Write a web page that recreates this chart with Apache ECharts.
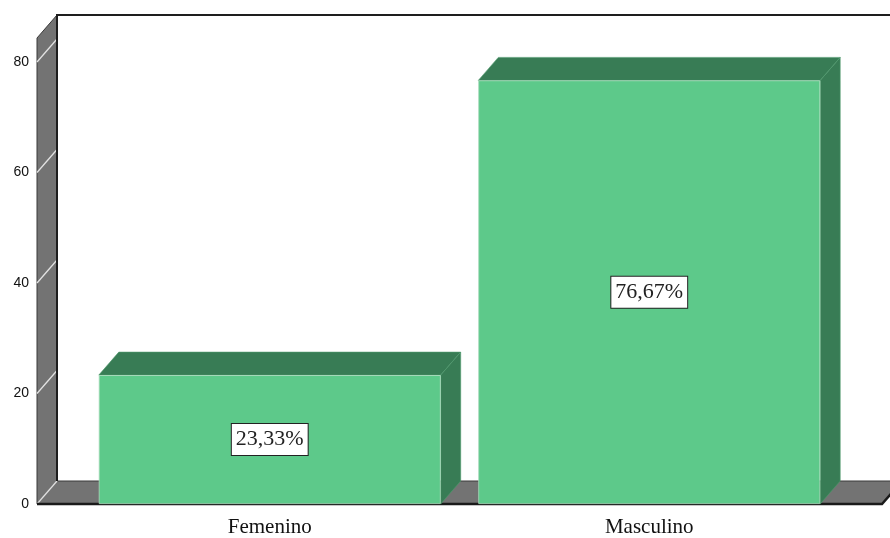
<!DOCTYPE html>
<html>
<head>
<meta charset="utf-8">
<script src="https://cdn.jsdelivr.net/npm/echarts@6/dist/echarts.min.js"></script>
<style>
html,body{margin:0;padding:0;background:#fff;}
#chart{width:890px;height:538px;}
</style>
</head>
<body>
<div id="chart"></div>
<script>
// ---- data ----
const categories = ['Femenino', 'Masculino'];
const percentages = [23.33, 76.67];
const yTicks = [0, 20, 40, 60, 80];
const yMax = 84.34;

// ---- style constants ----
const depthX = 20, depthY = -23;   // 3D depth offset
const wallPad = 43;                // floor/wall extension outside the band area
const barRatio = 0.901;            // bar width / band width
const frontColor = '#5dc98a';
const darkColor = '#387c55';
const wallColor = '#737373';

const chart = echarts.init(document.getElementById('chart'), null, {renderer: 'canvas'});

function fmt(v) { return v.toFixed(2).replace('.', ',') + '%'; }

const option = {
  animation: false,
  backgroundColor: '#fff',
  grid: {left: 80, right: 51, top: 38, bottom: 34},
  xAxis: {
    type: 'category',
    data: categories,
    axisLine: {show: false},
    axisTick: {show: false},
    axisLabel: {fontFamily: 'Liberation Serif', fontSize: 21, color: '#111', margin: 13}
  },
  yAxis: {
    type: 'value',
    min: 0, max: yMax, interval: 20,
    offset: wallPad,
    axisLine: {show: false},
    axisTick: {show: false},
    splitLine: {show: false},
    axisLabel: {
      fontFamily: 'Liberation Sans', fontSize: 14, color: '#111', margin: 8,
      showMaxLabel: false,
      formatter: function (v) { return yTicks.indexOf(v) >= 0 ? String(v) : ''; }
    }
  },
  series: [
    {
      // walls + floor
      type: 'custom',
      clip: false,
      z: 1,
      silent: true,
      data: [[0, 0]],
      renderItem: function (params, api) {
        const cs = params.coordSys;
        const L = cs.x - wallPad;
        const R = cs.x + cs.width + wallPad;
        const top = api.coord([0, yMax])[1];
        const y0 = api.coord([0, 0])[1];
        const children = [];
        children.push({type: 'polygon', shape: {points: [[L, top], [L + depthX, top + depthY], [L + depthX, y0 + depthY], [L, y0]]},
          style: {fill: wallColor, stroke: '#3a3a3a', lineWidth: 1}});
        children.push({type: 'polygon', shape: {points: [[L, y0], [L + depthX, y0 + depthY], [R + depthX, y0 + depthY], [R, y0]]},
          style: {fill: wallColor, stroke: '#3a3a3a', lineWidth: 1}});
        yTicks.forEach(function (v) {
          const y = api.coord([0, v])[1];
          children.push({type: 'line', shape: {x1: L, y1: y, x2: L + depthX, y2: y + depthY},
            style: {stroke: '#e2e2e2', lineWidth: 1.3}});
        });
        children.push({type: 'polyline', shape: {points: [[L + depthX, y0 + depthY], [L + depthX, top + depthY], [R + depthX + 20, top + depthY]]},
          style: {stroke: '#1e1e1e', lineWidth: 2, fill: null}});
        children.push({type: 'polyline', shape: {points: [[L, y0], [R, y0], [R + depthX, y0 + depthY]]},
          style: {stroke: '#1a1a1a', lineWidth: 2.5, fill: null}});
        return {type: 'group', children: children};
      }
    },
    {
      type: 'custom',
      clip: false,
      z: 2,
      silent: true,
      data: percentages.map(function (v, i) { return [i, v]; }),
      renderItem: function (params, api) {
        const i = api.value(0), v = api.value(1);
        const t = api.coord([i, v]);
        const b = api.coord([i, 0]);
        const hw = api.size([1, 0])[0] * barRatio / 2;
        const x0 = t[0] - hw, x1 = t[0] + hw, yt = t[1], yb = b[1];
        return {type: 'group', children: [
          {type: 'polygon', shape: {points: [[x0, yt], [x0 + depthX, yt + depthY], [x1 + depthX, yt + depthY], [x1, yt]]},
            style: {fill: darkColor, stroke: '#4f9a6d', lineWidth: 0.6}},
          {type: 'polygon', shape: {points: [[x1, yt], [x1 + depthX, yt + depthY], [x1 + depthX, yb + depthY], [x1, yb]]},
            style: {fill: darkColor, stroke: '#4f9a6d', lineWidth: 0.6}}
        ]};
      }
    },
    {
      type: 'bar',
      z: 3,
      barWidth: (barRatio * 100) + '%',
      data: percentages,
      itemStyle: {color: frontColor, borderColor: '#a9dcbc', borderWidth: 0.8},
      label: {
        show: true,
        position: 'inside',
        formatter: function (p) { return fmt(p.value); },
        fontFamily: 'Liberation Serif',
        fontSize: 22,
        lineHeight: 22,
        color: '#222',
        backgroundColor: '#fff',
        borderColor: '#222',
        borderWidth: 1,
        padding: [5, 4, 4, 4]
      }
    }
  ]
};

chart.setOption(option);
</script>
</body>
</html>
